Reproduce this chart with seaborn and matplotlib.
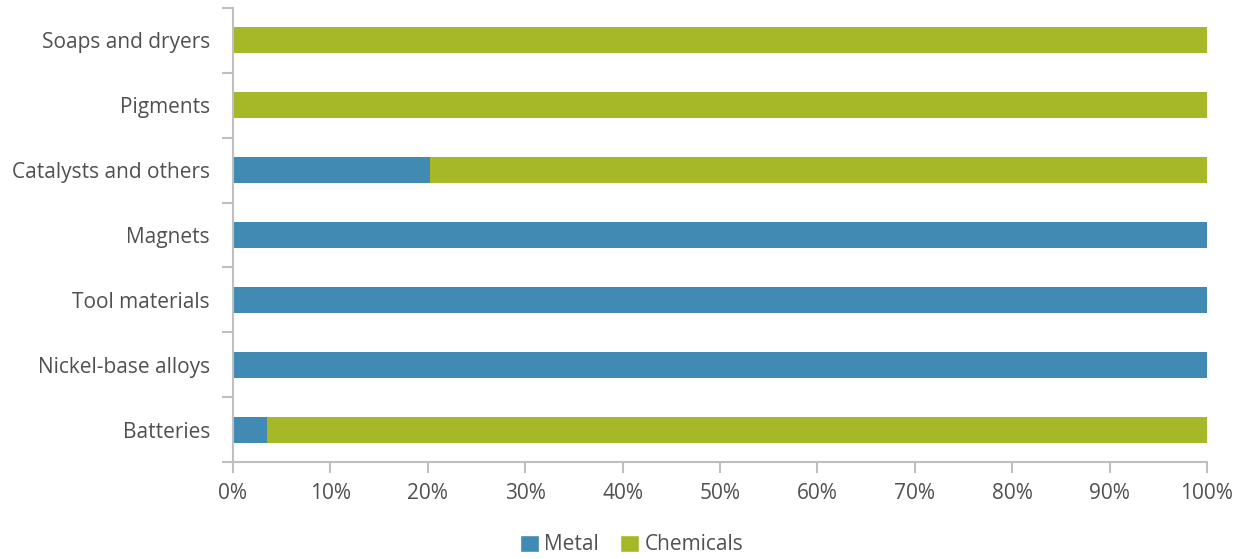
import matplotlib
matplotlib.use("Agg")
import matplotlib.pyplot as plt
import seaborn as sns
import pandas as pd
import numpy as np
from matplotlib.ticker import FixedLocator, PercentFormatter
from matplotlib.patches import Patch

categories = ["Soaps and dryers", "Pigments", "Catalysts and others", "Magnets",
              "Tool materials", "Nickel-base alloys", "Batteries"]
metal = [0, 0, 20.2, 100, 100, 100, 3.5]
chemicals = [100, 100, 79.8, 0, 0, 0, 96.5]
series_names = ["Metal", "Chemicals"]

sns.set_theme(style="white")
plt.rcParams['font.family'] = ['Open Sans', 'DejaVu Sans']

BLUE = "#418AB3"
GREEN = "#A6B727"
TEXT = "#505050"
GRID = "#BFBFBF"
FS = 15

df = pd.DataFrame({"category": categories, "metal": metal, "chemicals": chemicals})
df["total"] = df["metal"] + df["chemicals"]

fig = plt.figure(figsize=(12.44, 5.59), dpi=100)
ax = fig.add_axes([233/1244, 1-462/559, (1207-233)/1244, (462-8)/559])

sns.barplot(data=df, y="category", x="total", color=GREEN, order=categories,
            width=0.4, ax=ax, saturation=1, edgecolor="none", linewidth=0)
sns.barplot(data=df, y="category", x="metal", color=BLUE, order=categories,
            width=0.4, ax=ax, saturation=1, edgecolor="none", linewidth=0)

ax.set_xlim(0, 100)
ax.set_ylim(len(categories) - 0.5, -0.5)
ax.set_xlabel("")
ax.set_ylabel("")

ax.xaxis.set_major_locator(FixedLocator(np.arange(0, 101, 10)))
ax.xaxis.set_major_formatter(PercentFormatter(decimals=0))
ax.yaxis.set_minor_locator(FixedLocator(np.arange(-0.5, len(categories), 1.0)))

for s in ["top", "right"]:
    ax.spines[s].set_visible(False)
for s in ["left", "bottom"]:
    ax.spines[s].set_color(GRID)
    ax.spines[s].set_linewidth(1.5)

ax.tick_params(axis="y", which="major", length=0, pad=16.5, labelsize=FS, labelcolor=TEXT)
ax.tick_params(axis="y", which="minor", length=8, width=1.5, color=GRID, left=True)
ax.tick_params(axis="x", which="major", length=8, width=1.5, color=GRID, bottom=True,
               labelsize=FS, labelcolor=TEXT, pad=7)

handles = [Patch(facecolor=BLUE, label=series_names[0]),
           Patch(facecolor=GREEN, label=series_names[1])]
fig.legend(handles=handles, loc="center", bbox_to_anchor=(631.5/1244, 1-545/559), ncol=2,
           frameon=False, fontsize=FS, labelcolor=TEXT, handlelength=0.9, handleheight=0.9,
           handletextpad=0.25, columnspacing=1.05, borderpad=0)

fig.savefig("out.png", dpi=100)
